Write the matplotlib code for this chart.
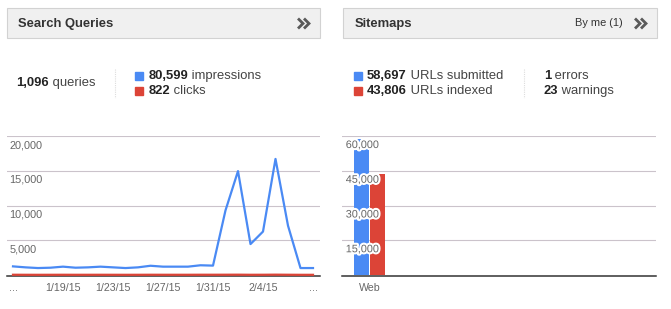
import numpy as np
import pandas as pd
import matplotlib
matplotlib.use('Agg')
import matplotlib.pyplot as plt
import matplotlib.patheffects as pe
import matplotlib.transforms as mtransforms
from matplotlib.patches import Rectangle

plt.rcParams['font.family'] = ['Liberation Sans', 'DejaVu Sans']

# ---- data ----
dates = pd.date_range('2015-01-15', '2015-02-08')
impressions = [1240, 1100, 1000, 1050, 1200, 1050, 1100, 1200, 1100, 1000,
               1100, 1330, 1200, 1200, 1200, 1400, 1350, 9300, 14950, 4450,
               6250, 16700, 7100, 1000, 1000]
clicks = [35, 30, 28, 30, 34, 30, 31, 33, 30, 28, 30, 36, 33, 33, 33,
          38, 37, 40, 45, 32, 35, 48, 36, 27, 27]
left_yticks = [5000, 10000, 15000, 20000]

sitemap_cats = ['Web']
urls_submitted = [58697]
urls_indexed = [43806]
right_yticks = [15000, 30000, 45000, 60000]

stats_left = [('1,096', ' queries')]
legend_left = [('80,599', ' impressions'), ('822', ' clicks')]
legend_right = [('58,697', ' URLs submitted'), ('43,806', ' URLs indexed')]
stats_right = [('1', ' errors'), ('23', ' warnings')]

BLUE = '#4a8af4'
RED = '#dc4437'
GRID = '#cbc3cb'
TXT = '#333333'
LBL = '#666666'

W, H = 671, 309
fig = plt.figure(figsize=(W / 100, H / 100), dpi=100)
fig.patch.set_facecolor('white')


def px_axes(x0, y0, x1, y1):
    # axes from a pixel box, origin top-left
    return fig.add_axes([x0 / W, (H - y1) / H, (x1 - x0) / W, (y1 - y0) / H])


# overlay for headers and stats, in pixel coords
ov = fig.add_axes([0, 0, 1, 1], zorder=0)
ov.set_xlim(0, W)
ov.set_ylim(H, 0)
ov.axis('off')


def header(x0, x1, title, extra=None):
    ov.add_patch(Rectangle((x0, 8), x1 - x0, 30, facecolor='#f0f0f0',
                           edgecolor='#d2d2d2', lw=0.8))
    ov.text(x0 + 11.5, 23.5, title, fontsize=9.4, fontweight='bold',
            color=TXT, va='center', ha='left')
    if extra:
        ov.text(x1 - 82, 23.5, extra, fontsize=7.9, color=TXT,
                va='center', ha='left')
    cx = x1 - 22
    for dx in (0, 6):
        ov.plot([cx + dx, cx + dx + 5, cx + dx], [18.5, 23.5, 28.5],
                color='#5a5a5a', lw=2.0, solid_capstyle='butt',
                solid_joinstyle='miter')


def two_part(x, y, bold, rest):
    t = ov.text(x, y, bold, fontsize=9.4, fontweight='bold', color='#222222',
                va='center', ha='left')
    ov.annotate(rest, xy=(1, 0), xycoords=t, va='bottom', ha='left',
                fontsize=9.4, color='#444444')


def baseline(a):
    # zero line, nudged one pixel down so the red series sits on top of it
    tr = mtransforms.offset_copy(a.get_yaxis_transform(), fig=fig,
                                 x=0, y=-1.2, units='dots')
    a.plot([0, 1], [0, 0], transform=tr, color='#333333', lw=1.1,
           zorder=3, clip_on=False)


header(7, 320, 'Search Queries')
header(343, 657, 'Sitemaps', 'By me (1)')

two_part(16.5, 83, *stats_left[0])
ov.plot([114.5, 114.5], [69, 98], color='#dddddd', lw=0.8, ls=(0, (1, 1)))
ov.plot([523.5, 523.5], [69, 98], color='#dddddd', lw=0.8, ls=(0, (1, 1)))

for (b, r), y, c in zip(legend_left, (76, 91), (BLUE, RED)):
    ov.add_patch(Rectangle((135, y - 4), 8, 8, color=c))
    two_part(148.5, y, b, r)
for (b, r), y, c in zip(legend_right, (76, 91), (BLUE, RED)):
    ov.add_patch(Rectangle((353.5, y - 4), 8, 8, color=c))
    two_part(367, y, b, r)
for (b, r), y in zip(stats_right, (76, 91)):
    two_part(544, y, b, r)

# ---- left line chart ----
ax = px_axes(7, 136, 320, 275)
ax.set_zorder(1)
ax.patch.set_alpha(0)
x = np.arange(len(dates))
step = 12.5
ax.set_xlim((7 - 13) / step, (320 - 13) / step)
ax.set_ylim(0, 20000)
for v in left_yticks:
    ax.axhline(v, color=GRID, lw=0.8, zorder=1)
baseline(ax)
ax.plot(x, clicks, color=RED, lw=1.6, zorder=4, clip_on=False)
ax.plot(x, impressions, color=BLUE, lw=1.6, zorder=4)
tick_pos = x[::4]
tick_lbl = [f'{d.month}/{d.day}/15' for d in dates[::4]]
tick_lbl[0] = '...'
tick_lbl[-1] = '...'
ax.set_xticks(tick_pos)
ax.set_xticklabels(tick_lbl)
ax.set_yticks([])
ax.tick_params(axis='x', length=0, pad=5.5, labelsize=7.7, labelcolor=LBL)
for s in ax.spines.values():
    s.set_visible(False)
ytr = ax.get_yaxis_transform()
for v in left_yticks:
    ax.annotate(f'{v:,}', xy=(0.008, v), xycoords=ytr, xytext=(0, -9),
                textcoords='offset pixels', va='center', ha='left',
                fontsize=7.8, color=LBL, zorder=5)

# ---- right bar chart ----
bx = px_axes(342, 136, 656, 275)
bx.set_zorder(1)
bx.patch.set_alpha(0)
unit = 40.0
bx.set_xlim((342 - 369.5) / unit, (656 - 369.5) / unit)
bx.set_ylim(0, 60000)
for v in right_yticks:
    bx.axhline(v, color=GRID, lw=0.8, zorder=1)
bw = 14.7 / unit
gap = 1.3 / unit
cpos = np.arange(len(sitemap_cats))
bx.bar(cpos - (bw + gap) / 2, urls_submitted, width=bw, color=BLUE, zorder=2)
bx.bar(cpos + (bw + gap) / 2, urls_indexed, width=bw, color=RED, zorder=2)
baseline(bx)
bx.set_xticks(cpos)
bx.set_xticklabels(sitemap_cats)
bx.set_yticks([])
bx.tick_params(axis='x', length=0, pad=5.5, labelsize=7.7, labelcolor=LBL)
for s in bx.spines.values():
    s.set_visible(False)
ytr2 = bx.get_yaxis_transform()
for v in right_yticks:
    bx.annotate(f'{v:,}', xy=(0.012, v), xycoords=ytr2, xytext=(0, -9),
                textcoords='offset pixels', va='center', ha='left',
                fontsize=7.8, color=LBL, zorder=5,
                path_effects=[pe.withStroke(linewidth=3, foreground='white')])

fig.savefig('out.png', dpi=100, facecolor='white')
